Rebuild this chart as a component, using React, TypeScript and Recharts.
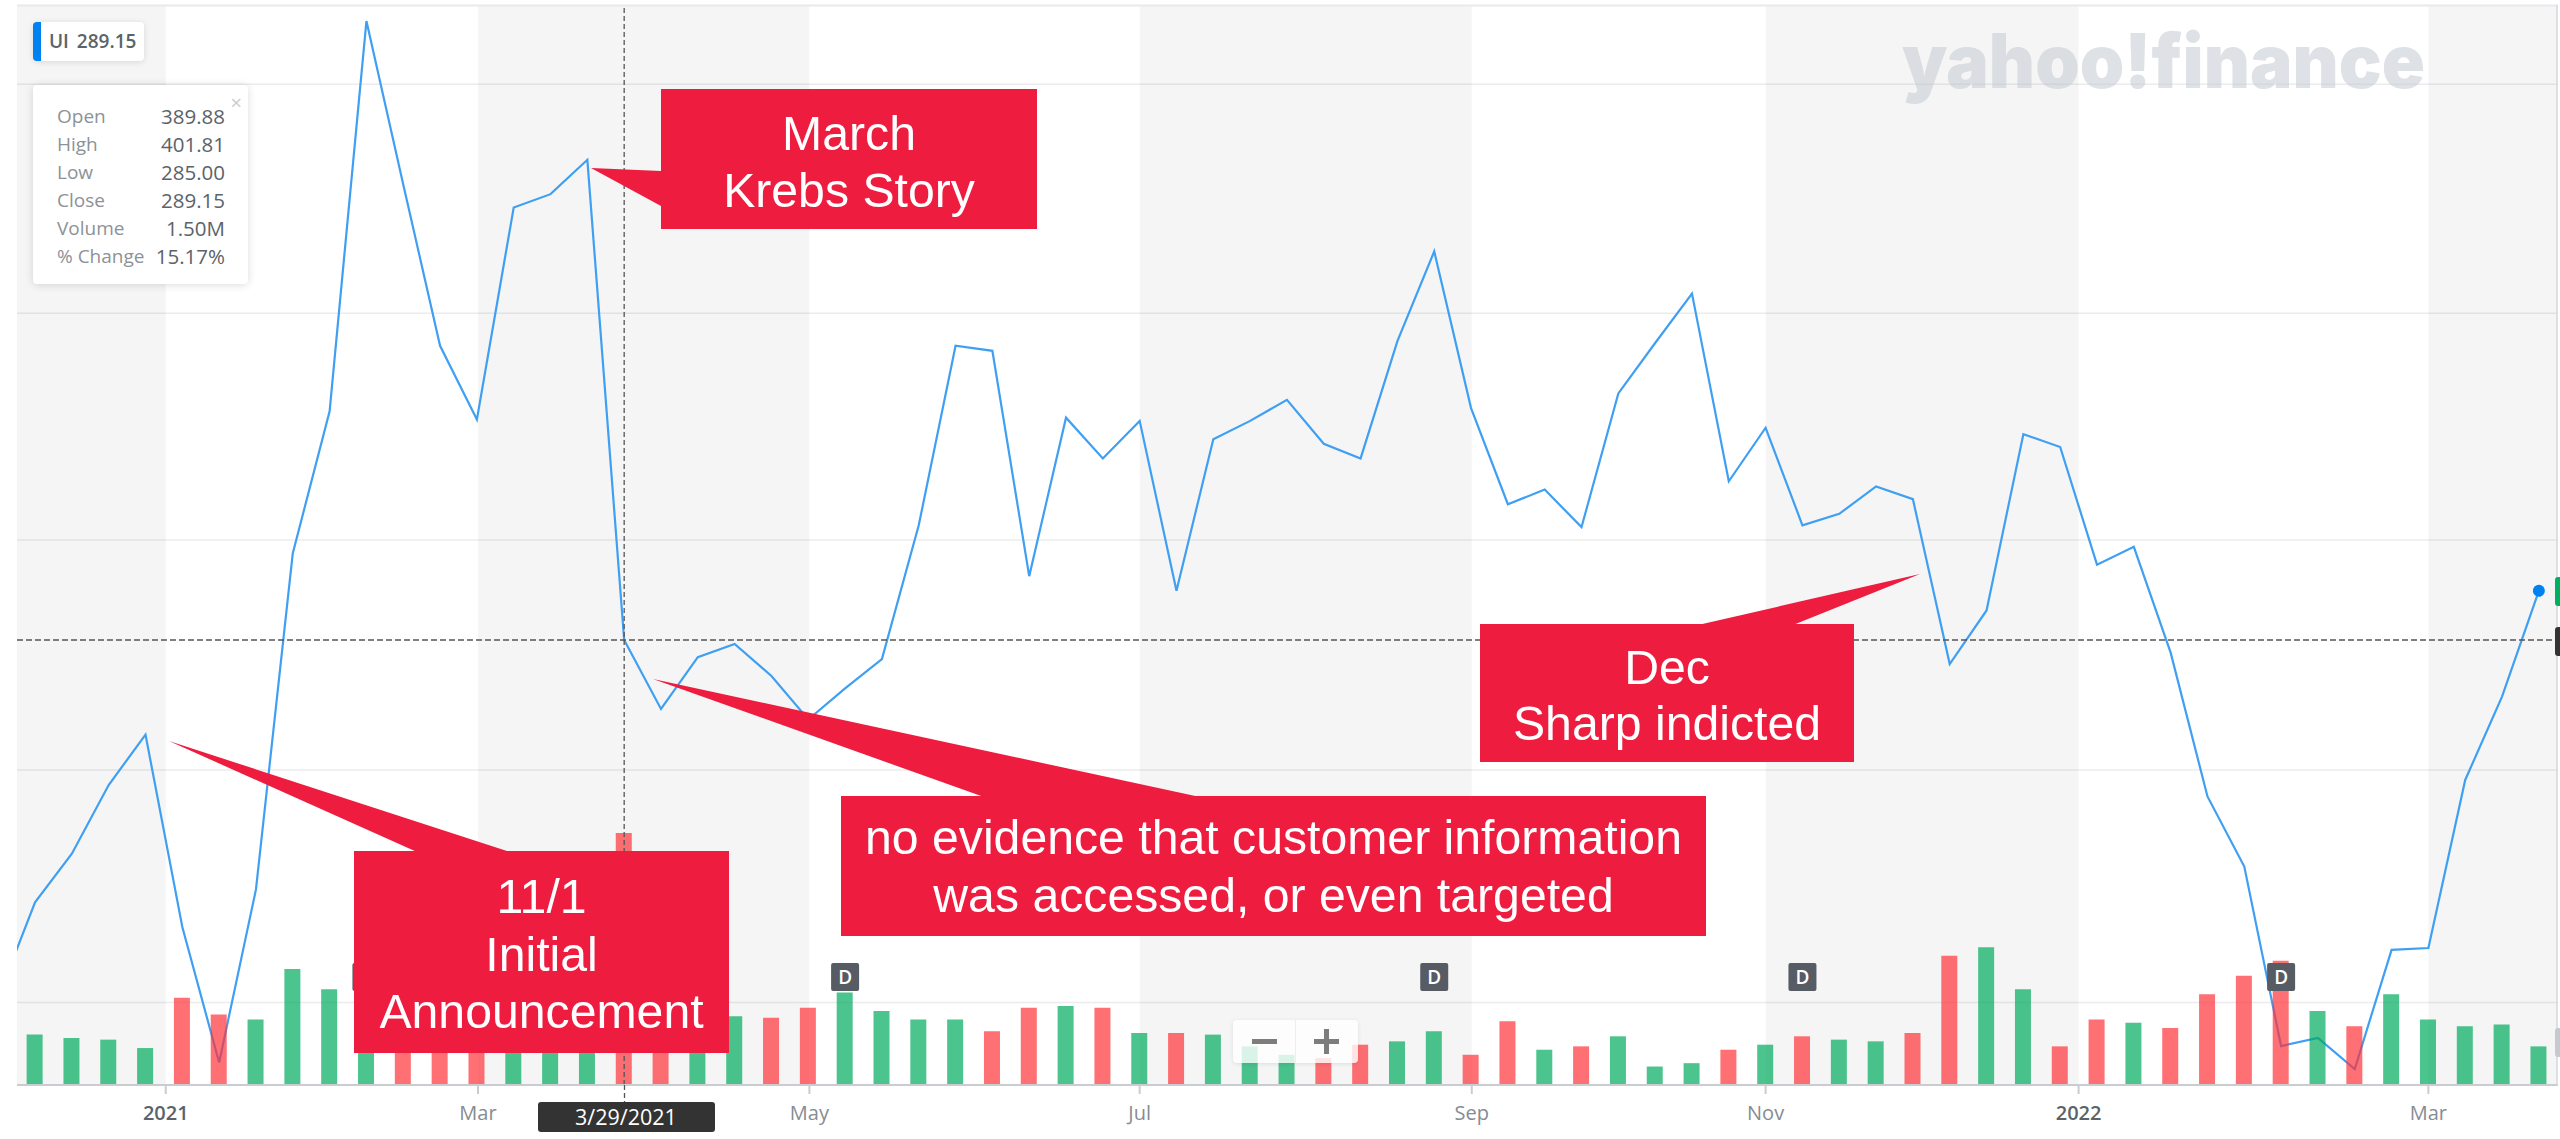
import React from "react";
import {
  ComposedChart,
  CartesianGrid,
  Line,
  Bar,
  Cell,
  XAxis,
  YAxis,
  ReferenceArea,
  ReferenceLine,
  ReferenceDot,
} from "recharts";

// weekly closes, first one sits just off the left edge of the plot
const closes = [
  211.2, 231.9, 242.5, 257.5, 268.5, 226.5, 196.9, 234.7, 308.1, 339.1, 424.3, 388.6, 353.4, 337.3,
  383.6, 386.5, 394, 289.15, 274.1, 285.4, 288.3, 281.3, 271.8, 278.6, 285, 314.2, 353.4, 352.3,
  303.1, 337.7, 328.8, 337, 299.9, 333, 337, 341.6, 332, 328.8, 354.4, 374, 339.8, 318.8, 322,
  313.8, 343, 354, 364.8, 323.8, 335.5, 314.2, 316.7, 322.7, 319.9, 283.9, 295.6, 334.1, 331.3,
  305.6, 309.5, 286.4, 255, 239.7, 200.5, 202.3, 195.5, 221.5, 221.9, 258.6, 276.8, 299.9,
];

// volume in millions, one per week
const volumes = [
  0.3, 0.28, 0.27, 0.22, 0.52, 0.42, 0.39, 0.69, 0.57, 0.51, 0.45, 0.42, 0.4, 0.39, 0.36, 0.37, 1.5,
  0.45, 0.4, 0.41, 0.4, 0.46, 0.55, 0.44, 0.39, 0.39, 0.32, 0.46, 0.47, 0.46, 0.31, 0.31, 0.3, 0.23,
  0.18, 0.16, 0.24, 0.26, 0.32, 0.18, 0.38, 0.21, 0.23, 0.29, 0.11, 0.13, 0.21, 0.24, 0.29, 0.27,
  0.26, 0.31, 0.77, 0.82, 0.57, 0.23, 0.39, 0.37, 0.34, 0.54, 0.65, 0.74, 0.44, 0.35, 0.54, 0.39,
  0.35, 0.36, 0.23,
];

// g = green bar, r = red bar
const directions =
  "ggggrrggggrrrgggrrggrrggggrrgrgrgggrrggrrgrgggrgrggrrggrrgrrrrgrggggg".split("");

const tickWeeks = [3.55, 12.03, 21.03, 30, 39.02, 47, 55.5, 65];
const tickLabels = ["2021", "Mar", "May", "Jul", "Sep", "Nov", "2022", "Mar"];
const gridPrices = [410.5, 360.5, 311, 260.8, 210];
const dividendWeeks = [9, 22, 38, 48, 61];

const quoteRows = [
  ["Open", "389.88"],
  ["High", "401.81"],
  ["Low", "285.00"],
  ["Close", "289.15"],
  ["Volume", "1.50M"],
  ["% Change", "15.17%"],
];

const X_MIN = -0.49;
const X_MAX = 68.52;
const HOVER_WEEK = 16;
const HOVER_CLOSE = 289.15;

const FONT = "'Open Sans', sans-serif";
const CALLOUT_RED = "#EE1C3F";

const chartData = closes.map((close, i) => ({
  week: i - 1,
  close,
  volume: i === 0 ? null : volumes[i - 1],
  dir: i === 0 ? "g" : directions[i - 1],
}));

// gray bands run between every other pair of month ticks
const bandEdges = [X_MIN, ...tickWeeks, X_MAX];
const bands = bandEdges.slice(0, -1).map((x1, i) => ({ x1, x2: bandEdges[i + 1] })).filter((_, i) => i % 2 === 0);

function MonthTick({ x, y, payload }: any) {
  const label = tickLabels[tickWeeks.indexOf(payload.value)];
  const isYear = label === "2021" || label === "2022";
  return (
    <text
      x={x}
      y={y + 24}
      textAnchor="middle"
      fontFamily={FONT}
      fontSize={20}
      fontWeight={isYear ? 600 : 400}
      fill={isYear ? "#5b636a" : "#868c92"}
    >
      {label}
    </text>
  );
}

function DividendBadge({ cx, cy }: any) {
  return (
    <g>
      <rect x={cx - 14} y={cy - 14} width={28} height={28} rx={2} fill="#565b64" />
      <text x={cx} y={cy + 7} textAnchor="middle" fontFamily={FONT} fontSize={19} fontWeight={600} fill="#fff">
        D
      </text>
    </g>
  );
}

function Callout({ rect, tail, lines, baselines }: any) {
  const [x, y, w, h] = rect;
  return (
    <g>
      <polygon points={tail} fill={CALLOUT_RED} />
      <rect x={x} y={y} width={w} height={h} fill={CALLOUT_RED} />
      {lines.map((line: string, i: number) => (
        <text
          key={line}
          x={x + w / 2}
          y={baselines[i]}
          textAnchor="middle"
          fontFamily="'Liberation Sans', Arial, sans-serif"
          fontSize={48.2}
          fill="#fff"
        >
          {line}
        </text>
      ))}
    </g>
  );
}

function Overlay() {
  return (
    <>
      <svg width={2560} height={1139} style={{ position: "absolute", left: 0, top: 0 }}>
        <line x1={17} x2={2558} y1={5.5} y2={5.5} stroke="#e6e9ee" strokeWidth={2} />
        <line x1={2557} x2={2557} y1={5} y2={1085} stroke="#d5d8dc" strokeWidth={1.5} />
        <line x1={624.5} x2={624.5} y1={1085} y2={1102} stroke="#555" strokeWidth={1.3} strokeDasharray="5 3" />
        <text
          x={1902}
          y={88}
          textLength={523}
          lengthAdjust="spacingAndGlyphs"
          fontFamily="Inter, sans-serif"
          fontWeight={900}
          fontSize={75}
          fill="#c3c8d0"
          fillOpacity={0.55}
        >
          yahoo!finance
        </text>
        <rect x={2555} y={577} width={8} height={29} rx={3} fill="#00b061" />
        <rect x={2555} y={627} width={8} height={29} rx={3} fill="#333" />
        <rect x={2555} y={1028} width={8} height={29} rx={3} fill="#c6c9ce" />
        <rect x={538} y={1102} width={177} height={30} rx={3} fill="#333" />
        <text x={626} y={1125} textAnchor="middle" fontFamily={FONT} fontSize={21.5} fill="#fff">
          3/29/2021
        </text>
        <Callout
          rect={[661, 89, 376, 140]}
          tail="591,168 661,171 661,206"
          lines={["March", "Krebs Story"]}
          baselines={[150, 207]}
        />
        <Callout
          rect={[354, 851, 375, 202]}
          tail="169,741 417,852 510,852"
          lines={["11/1", "Initial", "Announcement"]}
          baselines={[913, 971, 1028]}
        />
        <Callout
          rect={[841, 796, 865, 140]}
          tail="653,679 984,797 1200,797"
          lines={["no evidence that customer information", "was accessed, or even targeted"]}
          baselines={[854, 912]}
        />
        <Callout
          rect={[1480, 624, 374, 138]}
          tail="1920,574 1698,625 1793,625"
          lines={["Dec", "Sharp indicted"]}
          baselines={[684, 740]}
        />
      </svg>
      <div
        style={{
          position: "absolute",
          left: 33,
          top: 22,
          width: 111,
          height: 39,
          background: "#fff",
          borderLeft: "8px solid #0081f2",
          borderRadius: 4,
          boxSizing: "border-box",
          boxShadow: "0 1px 6px rgba(0,0,0,0.12)",
          fontFamily: FONT,
          fontSize: 19,
          fontWeight: 600,
          wordSpacing: 3,
          color: "#5b636a",
          lineHeight: "39px",
          paddingLeft: 8,
          whiteSpace: "nowrap",
        }}
      >
        UI 289.15
      </div>
      <div
        style={{
          position: "absolute",
          left: 33,
          top: 85,
          width: 215,
          height: 199,
          background: "#fff",
          borderRadius: 4,
          boxShadow: "0 1px 8px rgba(0,0,0,0.14)",
          fontFamily: FONT,
        }}
      >
        <span style={{ position: "absolute", right: 6, top: 4, color: "#c9cbce", fontSize: 20 }}>×</span>
        {quoteRows.map(([name, value], i) => (
          <div
            key={name}
            style={{
              position: "absolute",
              left: 24,
              right: 23,
              top: 17 + i * 28,
              lineHeight: "28px",
              display: "flex",
              justifyContent: "space-between",
            }}
          >
            <span style={{ color: "#8d9297", fontSize: 19 }}>{name}</span>
            <span style={{ color: "#5b636a", fontSize: 20.5 }}>{value}</span>
          </div>
        ))}
      </div>
      <div
        style={{
          position: "absolute",
          left: 1233,
          top: 1020,
          width: 125,
          height: 43,
          background: "rgba(255,255,255,0.8)",
          borderRadius: 4,
          boxShadow: "0 1px 4px rgba(0,0,0,0.1)",
        }}
      >
        <div style={{ position: "absolute", left: 62, top: 0, width: 1, height: 43, background: "#eee" }} />
        <div style={{ position: "absolute", left: 19, top: 19, width: 25, height: 5, background: "#7d7d7d" }} />
        <div style={{ position: "absolute", left: 81, top: 19, width: 25, height: 5, background: "#7d7d7d" }} />
        <div style={{ position: "absolute", left: 91, top: 9, width: 5, height: 25, background: "#7d7d7d" }} />
      </div>
    </>
  );
}

export default function App() {
  return (
    <div style={{ position: "absolute", left: 0, top: 0, width: 2560, height: 1139, overflow: "hidden", background: "#fff" }}>
      <ComposedChart
        width={2560}
        height={1139}
        data={chartData}
        margin={{ top: 5, right: 2, bottom: 0, left: 17 }}
      >
        <XAxis
          dataKey="week"
          type="number"
          domain={[X_MIN, X_MAX]}
          allowDataOverflow
          ticks={tickWeeks}
          interval={0}
          height={54}
          tickSize={9}
          tick={<MonthTick />}
          stroke="#c9cdd2"
          strokeWidth={2}
        />
        <YAxis yAxisId="price" hide domain={[192, 427.8]} allowDataOverflow />
        <YAxis yAxisId="volume" orientation="right" hide domain={[0, 6.43]} />

        <CartesianGrid
          yAxisId="price"
          vertical={false}
          horizontalValues={gridPrices}
          stroke="#ececee"
          strokeWidth={1.5}
        />
        {bands.map((b) => (
          <ReferenceArea
            key={b.x1}
            yAxisId="price"
            x1={b.x1}
            x2={b.x2}
            fill="#000"
            fillOpacity={0.04}
            stroke="none"
          />
        ))}

        <Line
          yAxisId="price"
          dataKey="close"
          type="linear"
          stroke="#3f9ff2"
          strokeWidth={2.2}
          dot={false}
          activeDot={false}
          isAnimationActive={false}
          zIndex={250}
        />
        <Bar yAxisId="volume" dataKey="volume" barSize={16} fillOpacity={0.7} isAnimationActive={false}>
          {chartData.map((row) => (
            <Cell key={row.week} fill={row.dir === "g" ? "#00ab5e" : "#ff3339"} />
          ))}
        </Bar>

        <ReferenceLine yAxisId="price" x={HOVER_WEEK} stroke="#555" strokeWidth={1.3} strokeDasharray="5 3" />
        <ReferenceLine yAxisId="price" y={HOVER_CLOSE} stroke="#555" strokeWidth={1.5} strokeDasharray="6 3" />
        <ReferenceDot yAxisId="price" x={68} y={299.9} r={6} fill="#0081f2" stroke="none" />
        {dividendWeeks.map((w) => (
          <ReferenceDot key={w} yAxisId="volume" x={w} y={0.643} shape={<DividendBadge />} />
        ))}
      </ComposedChart>
      <Overlay />
    </div>
  );
}
